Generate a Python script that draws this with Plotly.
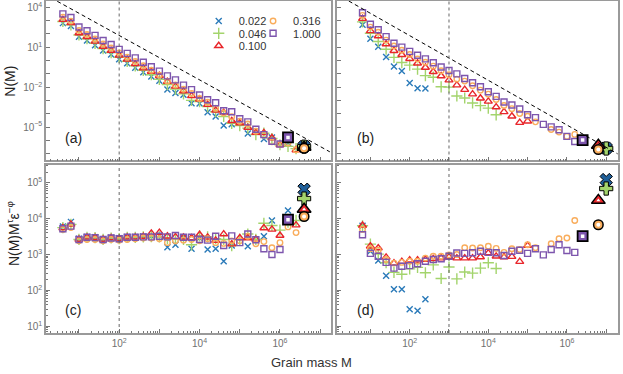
import plotly.graph_objects as go

# log10 of grain mass bins
log_mass_ac = [0.6, 0.8, 1.0, 1.2, 1.4, 1.6, 1.8, 2.0, 2.2, 2.4, 2.6, 2.8, 3.0, 3.2, 3.4, 3.6,
               3.8, 4.0, 4.2, 4.4, 4.6, 4.8, 5.0, 5.2, 5.4, 5.6, 5.8, 6.0, 6.2, 6.4, 6.6]
log_mass_bd = [0.8, 1.0, 1.2, 1.4, 1.6, 1.8, 2.0, 2.2, 2.4, 2.6, 2.8, 3.0, 3.2, 3.4, 3.6, 3.8,
               4.0, 4.2, 4.4, 4.6, 4.8, 5.0, 5.2, 5.4, 5.6, 5.8, 6.0, 6.2, 6.4, 6.6, 6.8, 7.0]

eps_labels = ["0.022", "0.046", "0.100", "0.316", "1.000"]

# panel (a): log10 N(M)
a_022 = [2.81, 2.60, 1.79, 1.50, 1.15, 0.75, 0.46, 0.10, -0.20, -0.54, -0.87, -1.20, -1.52, -2.17, -2.43, -2.57,
         -3.20, -3.23, -3.88, -4.20, -4.88, -4.78, None, -5.48, None, -5.88, -5.78, None, -6.18, None, -6.45]
a_046 = [2.93, 2.68, 1.92, 1.64, 1.29, 0.90, 0.60, 0.24, -0.06, -0.40, -0.73, -1.06, -1.41, -1.80, -2.14, -2.50,
         -2.99, -3.08, -3.45, -3.84, -4.20, -4.71, -4.88, -5.07, -5.56, -5.45, -5.85, -6.32, -6.44, -6.61, -6.46]
a_100 = [3.07, 2.83, 2.07, 1.79, 1.44, 1.05, 0.75, 0.39, 0.09, -0.25, -0.57, -0.82, -1.14, -1.58, -1.94, -2.29,
         -2.65, -2.90, -3.31, -3.74, -3.90, -4.52, -4.69, -5.03, -5.41, -5.43, -5.81, -6.32, None, -6.71, -6.50]
a_316 = [3.26, 2.96, 2.26, 1.96, 1.62, 1.24, 0.94, 0.58, 0.26, -0.07, -0.39, -0.73, -1.09, -1.54, -1.83, -2.15,
         -2.47, -2.85, -3.13, -3.58, -3.94, -4.21, -4.55, -4.76, -5.30, -5.59, -6.10, -6.30, -6.19, -6.69, -6.58]
a_1000 = [3.50, 3.23, 2.52, 2.24, 1.89, 1.50, 1.20, 0.84, 0.54, 0.20, -0.13, -0.47, -0.79, -1.15, -1.45, -1.84,
          -2.18, -2.58, -2.94, -3.17, -3.77, -3.84, -4.37, -4.60, -5.15, -5.56, -6.06, -6.26, -5.77, None, None]

# panel (c): log10 N(M) M^tau eps^-phi
c_022 = [3.78, 3.91, 3.44, 3.49, 3.48, 3.42, 3.47, 3.45, 3.49, 3.49, 3.50, 3.51, 3.53, 3.20, 3.27, 3.46,
         3.16, 3.46, 3.14, 3.16, 2.81, 3.25, None, 3.23, None, 3.51, 3.95, None, 4.23, None, 4.82]
c_046 = [3.75, 3.84, 3.42, 3.48, 3.47, 3.42, 3.46, 3.44, 3.48, 3.48, 3.49, 3.50, 3.49, 3.44, 3.44, 3.42,
         3.27, 3.52, 3.49, 3.44, 3.42, 3.25, 3.42, 3.57, 3.42, 3.87, 3.81, 3.68, 3.90, 3.95, 4.56]
c_100 = [3.74, 3.84, 3.42, 3.48, 3.47, 3.42, 3.46, 3.44, 3.48, 3.48, 3.50, 3.59, 3.61, 3.51, 3.49, 3.48,
         3.46, 3.55, 3.48, 3.39, 3.57, 3.29, 3.46, 3.46, 3.42, 3.74, 3.70, 3.53, None, 3.82, 4.26]
c_316 = [3.70, 3.75, 3.38, 3.42, 3.42, 3.38, 3.42, 3.40, 3.42, 3.44, 3.46, 3.46, 3.44, 3.33, 3.38, 3.40,
         3.42, 3.38, 3.44, 3.33, 3.31, 3.38, 3.38, 3.51, 3.30, 3.36, 3.19, 3.33, 3.77, 3.61, 4.06]
c_1000 = [3.72, 3.79, 3.42, 3.48, 3.47, 3.42, 3.46, 3.44, 3.48, 3.48, 3.49, 3.49, 3.51, 3.49, 3.53, 3.48,
          3.48, 3.42, 3.40, 3.51, 3.25, 3.52, 3.33, 3.57, 3.41, 3.16, 3.00, 3.14, 3.97, None, None]

# panel (b): log10 N(M)
b_022 = [2.68, 1.63, 1.03, 0.27, -0.45, -0.79, -1.69, -2.07, -2.09, None, None, None, None, None, None, None,
         None, None, None, None, None, None, None, None, None, None, None, None, None, None, None, -6.57]
b_046 = [2.90, 2.05, 1.43, 0.85, 0.24, -0.15, -0.34, -0.64, -1.13, -1.25, -1.97, -1.99, -2.66, -2.81, -3.18, -3.38,
         -3.57, -4.07, None, None, None, None, None, None, None, None, None, None, None, None, None, -6.60]
b_100 = [3.15, 2.23, 1.84, 1.24, 0.74, 0.44, 0.14, -0.20, -0.52, -0.84, -1.16, -1.47, -1.84, -2.18, -2.52, -2.83,
         -3.06, -3.49, -3.85, -4.18, -4.66, -4.55, None, None, None, None, None, None, None, None, -6.35, None]
b_316 = [3.39, 2.51, 2.13, 1.53, 1.09, 0.77, 0.46, 0.12, -0.13, -0.42, -0.76, -1.06, -1.39, -1.54, -1.89, -2.22,
         -2.52, -2.92, -3.37, -3.61, -3.97, -4.18, -4.60, None, -5.17, -5.37, -5.69, -5.54, None, None, -6.68, None]
b_1000 = [3.59, 2.73, 2.31, 1.80, 1.30, 1.01, 0.69, 0.40, 0.13, -0.16, -0.48, -0.75, -1.00, -1.35, -1.67, -1.97,
          -2.34, -2.69, -3.11, -3.33, -3.64, -4.07, -4.28, -4.79, -4.98, -5.19, -5.69, -6.08, -5.97, None, None, None]

# panel (d): log10 N(M) M^tau eps^-phi
d_022 = [3.80, 3.09, 2.83, 2.41, 2.03, 2.03, 1.47, 1.43, 1.75, None, None, None, None, None, None, None,
         None, None, None, None, None, None, None, None, None, None, None, None, None, None, None, 5.09]
d_046 = [3.80, 3.29, 3.01, 2.77, 2.50, 2.45, 2.60, 2.64, 2.49, 2.71, 2.33, 2.65, 2.32, 2.51, 2.48, 2.62,
         2.77, 2.61, None, None, None, None, None, None, None, None, None, None, None, None, None, 4.84]
d_100 = [3.81, 3.23, 3.18, 2.92, 2.76, 2.80, 2.84, 2.84, 2.86, 2.88, 2.90, 2.93, 2.90, 2.90, 2.90, 2.93,
         3.04, 2.95, 2.93, 2.94, 2.80, 3.25, None, None, None, None, None, None, None, None, 4.51, None]
d_316 = [3.70, 3.16, 3.12, 2.86, 2.76, 2.78, 2.81, 2.81, 2.90, 2.95, 2.95, 2.99, 3.00, 3.19, 3.18, 3.19,
         3.23, 3.17, 3.06, 3.16, 3.14, 3.27, 3.19, None, 3.30, 3.44, 3.46, 3.95, None, None, 3.83, None]
d_1000 = [3.55, 3.03, 2.95, 2.78, 2.62, 2.67, 2.69, 2.74, 2.81, 2.86, 2.88, 2.95, 3.04, 3.03, 3.05, 3.09,
          3.06, 3.05, 2.97, 3.09, 3.12, 3.03, 3.16, 2.99, 3.14, 3.27, 3.11, 3.06, 3.51, None, None, None]

# dashed power-law guides (log10 M, log10 N)
guide_a_logM = [0.46, 7.24]
guide_a_logN = [4.45, -6.85]
guide_b_logM = [0.45, 7.29]
guide_b_logN = [4.47, -7.0]

colors = ["#2a7ab9", "#a3d46c", "#e8262b", "#f9ad5c", "#7d55ad"]
symbols = ["x-thin-open", "cross-thin-open", "triangle-up-open", "circle-open", "square-open"]
sizes = [6, 8, 7, 5.5, 6]

FONT = "Liberation Sans, Arial, sans-serif"
GRAY = "#9a9a9a"


def pw(v):
    return [None if t is None else 10 ** t for t in v]


panels = {
    "a": ("x", "y", log_mass_ac, [a_022, a_046, a_100, a_316, a_1000]),
    "b": ("x2", "y2", log_mass_bd, [b_022, b_046, b_100, b_316, b_1000]),
    "c": ("x3", "y3", log_mass_ac, [c_022, c_046, c_100, c_316, c_1000]),
    "d": ("x4", "y4", log_mass_bd, [d_022, d_046, d_100, d_316, d_1000]),
}

fig = go.Figure()

for key, (xa, ya, logm, data) in panels.items():
    mass = pw(logm)
    for i, vals in enumerate(data):
        fig.add_trace(go.Scatter(
            x=mass, y=pw(vals), mode="markers", xaxis=xa, yaxis=ya,
            name=eps_labels[i], showlegend=(key == "a"),
            legend="legend" if i == 0 else "legend%d" % (i + 1),
            marker=dict(symbol=symbols[i], size=sizes[i], color=colors[i],
                        line=dict(color=colors[i], width=1.4)),
        ))

# last (largest) grain of each run, highlighted
for key, (xa, ya, logm, data) in panels.items():
    for i, vals in enumerate(data):
        last = max(j for j, v in enumerate(vals) if v is not None)
        xs, ys = [10 ** logm[last]], [10 ** vals[last]]
        if i == 0:
            layers = [dict(symbol="x", size=11, color="#1f5f99", line=dict(color="black", width=1))]
        elif i == 1:
            layers = [dict(symbol="cross", size=11, color=colors[1], line=dict(color="black", width=1))]
        elif i == 2:
            layers = [dict(symbol="triangle-up", size=12, color=colors[2], line=dict(color="black", width=1.5)),
                      dict(symbol="triangle-up", size=3.5, color="white", line=dict(width=0))]
        elif i == 3:
            layers = [dict(symbol="circle", size=9.5, color=colors[3], line=dict(color="black", width=1.5)),
                      dict(symbol="circle", size=4, color="white", line=dict(width=0))]
        else:
            layers = [dict(symbol="square", size=10, color=colors[4], line=dict(color="black", width=1.8)),
                      dict(symbol="square", size=3.5, color="white", line=dict(width=0))]
        for mk in layers:
            fig.add_trace(go.Scatter(x=xs, y=ys, mode="markers", xaxis=xa, yaxis=ya,
                                     showlegend=False, marker=mk, hoverinfo="skip"))

for xa, ya, gm, gn in [("x", "y", guide_a_logM, guide_a_logN), ("x2", "y2", guide_b_logM, guide_b_logN)]:
    fig.add_trace(go.Scatter(x=pw(gm), y=pw(gn), mode="lines", xaxis=xa, yaxis=ya, showlegend=False,
                             line=dict(color="black", width=1, dash="4px,3px")))

# vertical dotted markers
for xa, ya, xv in [("x", "y", 100), ("x3", "y3", 100), ("x2", "y2", 1000), ("x4", "y4", 1000)]:
    fig.add_shape(type="line", xref=xa, yref=ya + " domain", x0=xv, x1=xv, y0=0, y1=1,
                  line=dict(color="#666666", width=1, dash="dot"))

x_major = [10 ** n for n in range(0, 8)]
x_text = ["", "", "10<sup>2</sup>", "", "10<sup>4</sup>", "", "10<sup>6</sup>", ""]
x_minor = [m * 10 ** n for n in range(0, 8) for m in range(2, 10)]

ya_major = [10 ** n for n in range(-7, 5)]
ya_text = ["10<sup>%s</sup>" % str(n).replace("-", "\u2212") if n in (-5, -2, 1, 4) else ""
           for n in range(-7, 5)]
yc_major = [10 ** n for n in range(1, 6)]
yc_text = ["10<sup>%d</sup>" % n for n in range(1, 6)]
yc_minor = [m * 10 ** n for n in range(0, 6) for m in range(2, 10)]

common = dict(type="log", showline=True, linecolor=GRAY, linewidth=1.5, mirror=True, automargin=False,
              ticks="inside", tickcolor="#777777", tickwidth=1, showgrid=False, zeroline=False,
              tickfont=dict(size=10, color="#707070", family=FONT))

xdom_l = [0.0, 0.4983]
xdom_r = [0.5087, 1.0]
ydom_t = [0.5196, 1.0]
ydom_b = [0.0, 0.5075]

xax = lambda dom, rng, anchor, labels: dict(
    common, domain=dom, range=rng, anchor=anchor, tickvals=x_major, ticktext=x_text, ticklen=4,
    showticklabels=labels,
    minor=dict(tickvals=x_minor, ticks="inside", ticklen=2, tickcolor="#777777", showgrid=False))

fig.update_layout(
    width=623, height=374,
    margin=dict(l=46, r=5, t=1, b=41),
    paper_bgcolor="white", plot_bgcolor="white",
    font=dict(family=FONT, color="#333333"),
    xaxis=xax(xdom_l, [0.18, 7.27], "y", False),
    xaxis2=xax(xdom_r, [0.15, 7.30], "y2", False),
    xaxis3=xax(xdom_l, [0.18, 7.27], "y3", True),
    xaxis4=xax(xdom_r, [0.15, 7.30], "y4", True),
    yaxis=dict(common, domain=ydom_t, range=[-7.5, 4.47], anchor="x", tickvals=ya_major,
               ticktext=ya_text, ticklen=4),
    yaxis2=dict(common, domain=ydom_t, range=[-7.5, 4.47], anchor="x2", tickvals=ya_major,
                ticktext=ya_text, ticklen=4, showticklabels=False),
    yaxis3=dict(common, domain=ydom_b, range=[0.81, 5.51], anchor="x3", tickvals=yc_major,
                ticktext=yc_text, ticklen=4,
                minor=dict(tickvals=yc_minor, ticks="inside", ticklen=2, tickcolor="#777777", showgrid=False)),
    yaxis4=dict(common, domain=ydom_b, range=[0.81, 5.51], anchor="x4", tickvals=yc_major,
                ticktext=yc_text, ticklen=4, showticklabels=False,
                minor=dict(tickvals=yc_minor, ticks="inside", ticklen=2, tickcolor="#777777", showgrid=False)),
)

# legend: two columns, one legend box per entry
leg_pos = [(0.2670, 0.9398), (0.2670, 0.9027), (0.2670, 0.8653), (0.3620, 0.9398), (0.3620, 0.9027)]
for i, (lx, ly) in enumerate(leg_pos):
    name = "legend" if i == 0 else "legend%d" % (i + 1)
    fig.update_layout({name: dict(x=lx, y=ly, xanchor="left", yanchor="middle", bgcolor="rgba(0,0,0,0)",
                                  borderwidth=0, font=dict(size=11, color="#333333", family=FONT))})

panel_labels = [("(a)", "x", "y", 0.095, 0.14), ("(b)", "x2", "y2", 0.10, 0.14),
                ("(c)", "x3", "y3", 0.095, 0.136), ("(d)", "x4", "y4", 0.10, 0.136)]
for txt, xa, ya, px, py in panel_labels:
    fig.add_annotation(text=txt, xref=xa + " domain", yref=ya + " domain", x=px, y=py,
                       xanchor="center", yanchor="middle",
                       showarrow=False, font=dict(size=14, color="#222222", family=FONT))

fig.add_annotation(text="N(M)", xref="paper", yref="paper", x=-0.0629, y=0.757, textangle=-90,
                   xanchor="center", yanchor="middle",
                   showarrow=False, font=dict(size=14, color="#222222", family=FONT))
fig.add_annotation(text="N(M)M<sup>\u03c4</sup>\u03b5<sup>\u2212\u03c6</sup>", xref="paper", yref="paper",
                   x=-0.0577, y=0.301, textangle=-90, xanchor="center", yanchor="middle", showarrow=False,
                   font=dict(size=14, color="#222222", family=FONT))
fig.add_annotation(text="Grain mass M", xref="paper", yref="paper", x=0.465, y=-0.0895,
                   xanchor="center", yanchor="middle",
                   showarrow=False, font=dict(size=13, color="#333333", family=FONT))

# the page body has a default 8px margin; drop it so the figure fills the window
fig.write_html("out.html", config={"displayModeBar": False},
               post_script="document.body.style.margin='0';")
